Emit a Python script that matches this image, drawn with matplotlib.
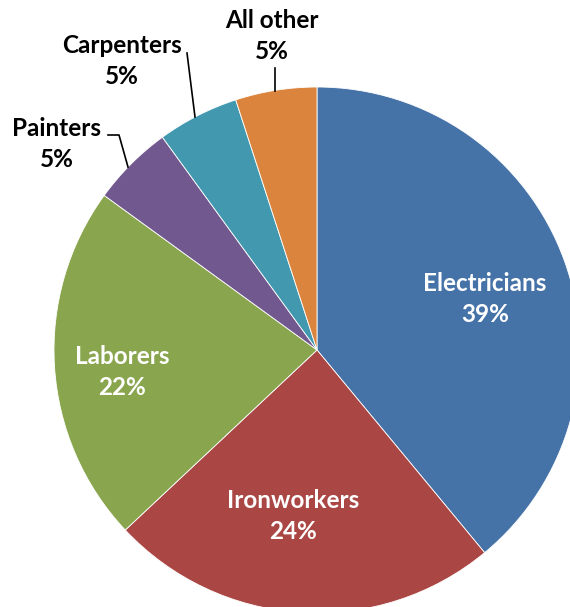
import matplotlib
matplotlib.use("Agg")
import matplotlib.pyplot as plt

trades = ["Electricians", "Ironworkers", "Laborers", "Painters", "Carpenters", "All other"]
shares = [39, 24, 22, 5, 5, 5]
colors = ["#4572A7", "#AA4643", "#89A54E", "#71588F", "#4198AF", "#DB843D"]

W, H = 570, 607
CX, CY, R = 317, H - 350, 263

fig = plt.figure(figsize=(W / 100, H / 100), dpi=100)
ax = fig.add_axes([0, 0, 1, 1])
ax.pie(shares, colors=colors, startangle=90, counterclock=False,
       center=(CX, CY), radius=R, frame=True,
       wedgeprops=dict(edgecolor="white", linewidth=0.6))
ax.set_xlim(0, W)
ax.set_ylim(0, H)
ax.set_aspect("auto")
ax.axis("off")

font = dict(family=["Lato", "DejaVu Sans"], fontweight="bold", fontsize=17.5,
            ha="center", va="center", linespacing=1.4)

# labels inside the big slices (screen coords, y from top)
inside = {"Electricians": (485, 299), "Ironworkers": (293, 516), "Laborers": (122, 372)}
# labels outside the small slices
outside = {"Painters": (57, 144), "Carpenters": (122, 61), "All other": (272, 36)}

for name, val in zip(trades, shares):
    txt = f"{name}\n{val}%"
    if name in inside:
        x, y = inside[name]
        ax.text(x, H - y, txt, color="white", **font)
    else:
        x, y = outside[name]
        ax.text(x, H - y, txt, color="black", **font)

# leader lines
leaders = [
    [(108, 135), (119, 135), (128, 167)],
    [(187, 53), (195, 117)],
    [(275, 68), (275, 91)],
]
for pts in leaders:
    xs = [p[0] for p in pts]
    ys = [H - p[1] for p in pts]
    ax.plot(xs, ys, color="black", linewidth=1.2)

fig.savefig("out.png", dpi=100)
